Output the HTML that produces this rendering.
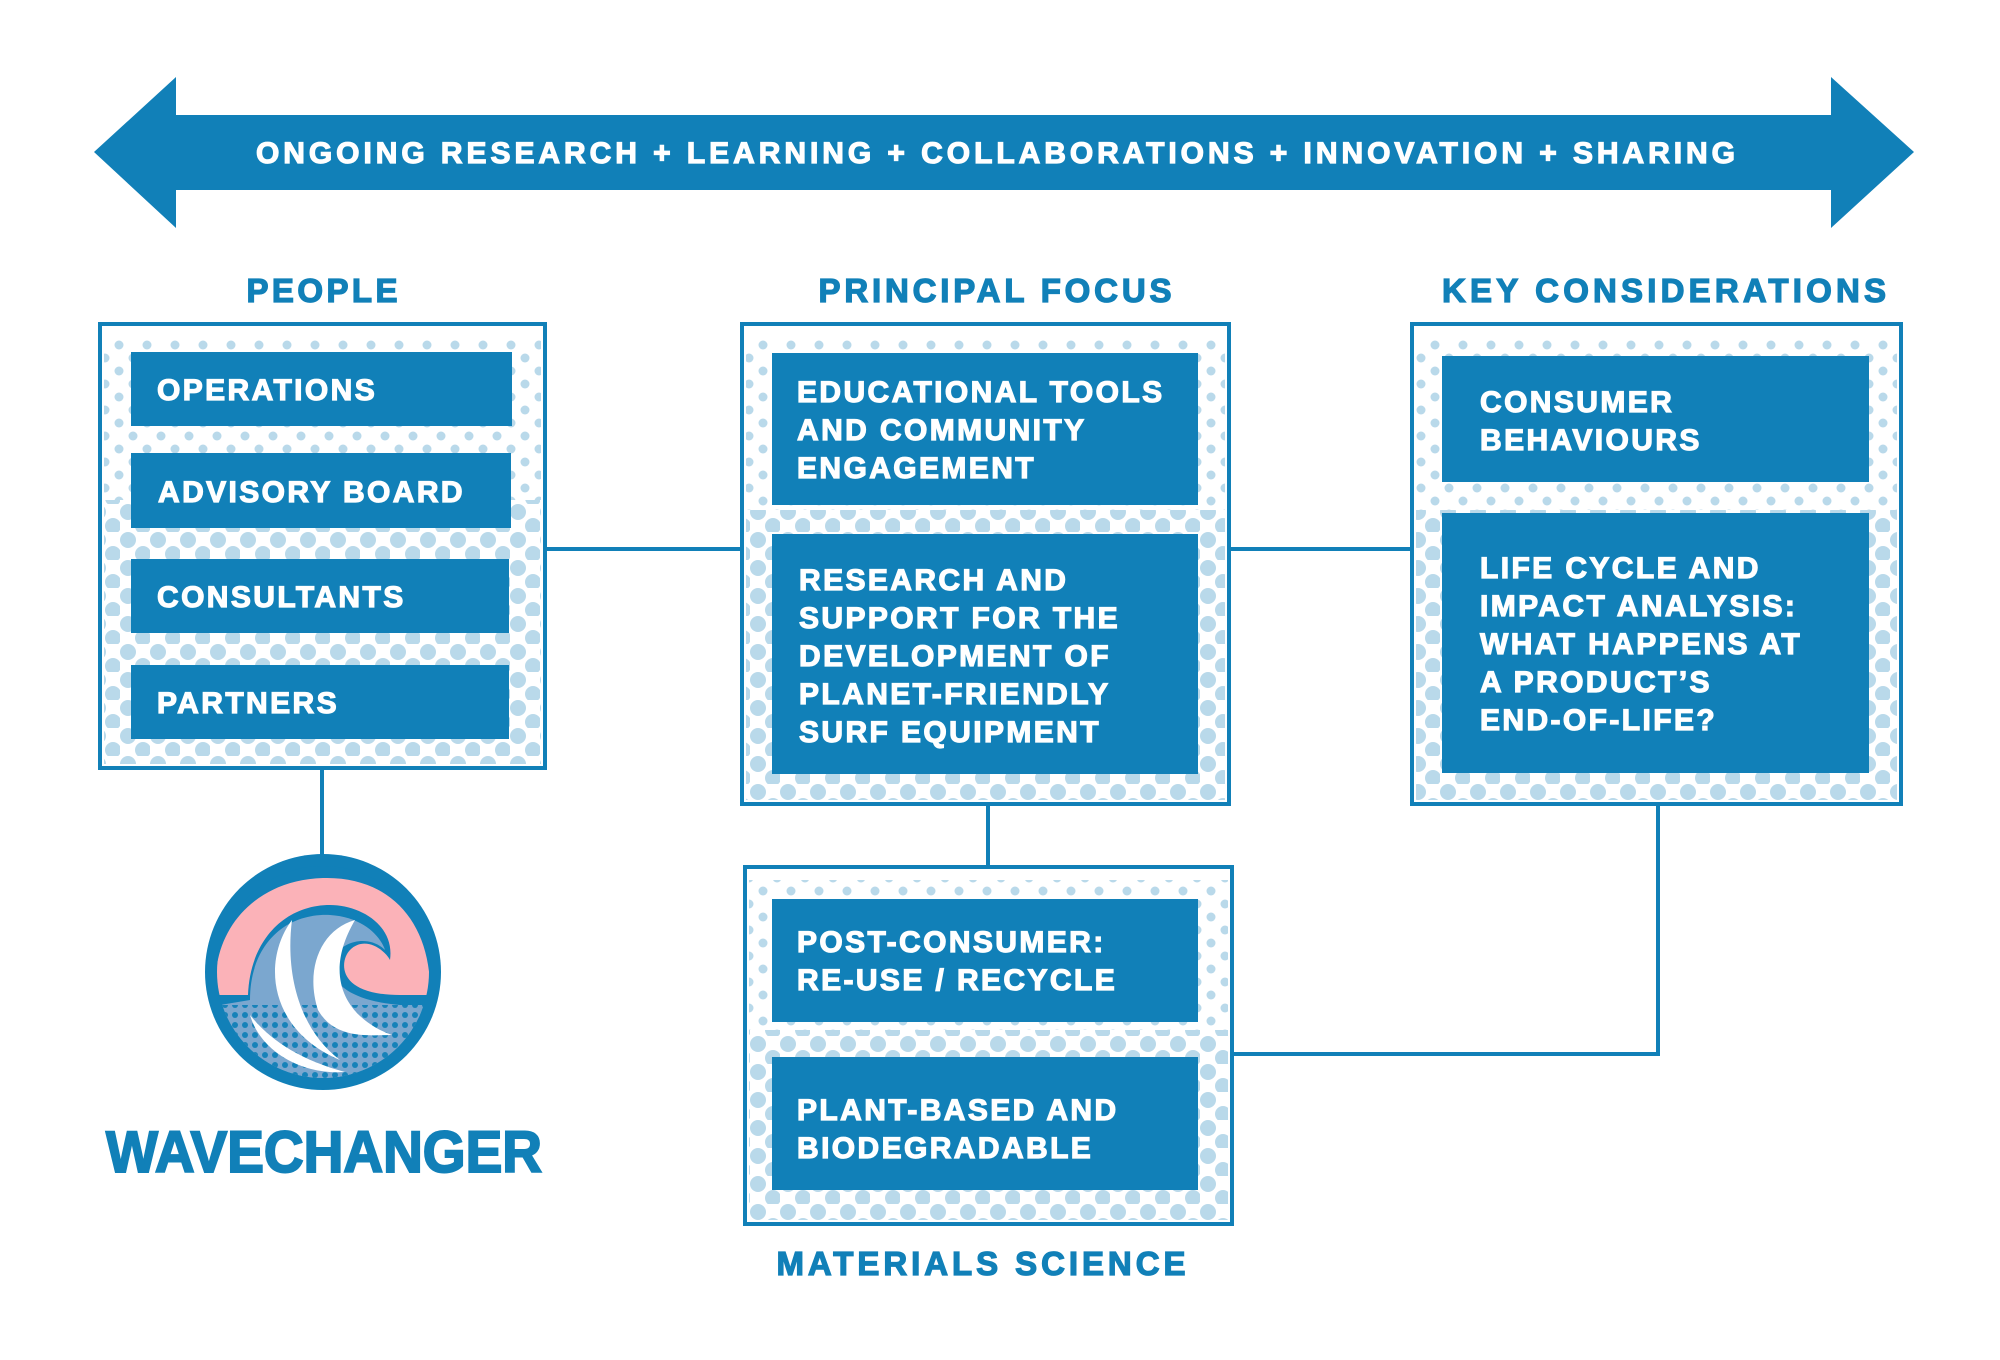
<!DOCTYPE html>
<html><head><meta charset="utf-8"><style>
html,body{margin:0;padding:0;background:#fff;width:2000px;height:1360px;overflow:hidden}
text{font-family:"Liberation Sans",sans-serif;font-weight:bold}
</style></head><body>
<svg width="2000" height="1360" viewBox="0 0 2000 1360" xmlns="http://www.w3.org/2000/svg">
<defs>
<pattern id="d1" width="28" height="26" patternUnits="userSpaceOnUse">
<circle cx="7" cy="7" r="4.5" fill="#b9d9ea"/><circle cx="21" cy="20" r="4.5" fill="#b9d9ea"/>
</pattern>
<pattern id="d2" width="30" height="28" patternUnits="userSpaceOnUse">
<circle cx="8" cy="8" r="8" fill="#b9d9ea"/><circle cx="23" cy="22" r="8" fill="#b9d9ea"/>
</pattern>
<pattern id="ht" width="10" height="10" patternUnits="userSpaceOnUse">
<rect width="10" height="10" fill="#7ba7cf"/><circle cx="5" cy="5" r="3" fill="#1180b8"/>
</pattern>
<clipPath id="cc"><circle cx="323" cy="972" r="106"/></clipPath>
</defs>
<g fill="#1180b8">
<polygon points="94,152 176,77 176,115 1831,115 1831,77 1914,152 1831,228 1831,190 176,190 176,228"/>
</g>
<text x="256" y="163" fill="#fff" stroke="#fff" stroke-width="1.2" font-size="30" textLength="1479" lengthAdjust="spacing">ONGOING RESEARCH  +  LEARNING  +  COLLABORATIONS  +  INNOVATION  +  SHARING</text>

<g fill="#1180b8" stroke="#1180b8" stroke-width="1.3" font-size="33" text-anchor="middle">
<text x="322" y="302" textLength="151" lengthAdjust="spacing">PEOPLE</text>
<text x="995" y="302" textLength="353" lengthAdjust="spacing">PRINCIPAL FOCUS</text>
<text x="1664" y="302" textLength="444" lengthAdjust="spacing">KEY CONSIDERATIONS</text>
<text x="981" y="1275" textLength="409" lengthAdjust="spacing">MATERIALS SCIENCE</text>
</g>

<g stroke="#1180b8" stroke-width="4" fill="none">
<line x1="545" y1="549" x2="742" y2="549"/>
<line x1="1229" y1="549" x2="1412" y2="549"/>
<line x1="322" y1="768" x2="322" y2="860"/>
<line x1="988" y1="804" x2="988" y2="867"/>
<polyline points="1658,804 1658,1054 1232,1054"/>
</g>

<g stroke="#1180b8" stroke-width="4">
<rect x="100" y="324" width="445" height="444" fill="#fff"/>
<rect x="742" y="324" width="487" height="480" fill="#fff"/>
<rect x="1412" y="324" width="489" height="480" fill="#fff"/>
<rect x="745" y="867" width="487" height="357" fill="#fff"/>
</g>
<rect x="104" y="340" width="437" height="160" fill="url(#d1)"/>
<rect x="104" y="500" width="437" height="264" fill="url(#d2)"/>
<rect x="746" y="340" width="479" height="170" fill="url(#d1)"/>
<rect x="746" y="510" width="479" height="290" fill="url(#d2)"/>
<rect x="1416" y="340" width="481" height="170" fill="url(#d1)"/>
<rect x="1416" y="510" width="481" height="290" fill="url(#d2)"/>
<rect x="749" y="880" width="479" height="150" fill="url(#d1)"/>
<rect x="749" y="1030" width="479" height="190" fill="url(#d2)"/>

<g fill="#1180b8">
<rect x="131" y="352" width="381" height="74"/>
<rect x="131" y="453" width="380" height="75"/>
<rect x="131" y="559" width="378" height="74"/>
<rect x="131" y="665" width="378" height="74"/>
<rect x="772" y="353" width="426" height="152"/>
<rect x="772" y="534" width="426" height="240"/>
<rect x="1442" y="356" width="427" height="126"/>
<rect x="1442" y="513" width="427" height="260"/>
<rect x="772" y="899" width="426" height="123"/>
<rect x="772" y="1057" width="426" height="133"/>
</g>

<g fill="#fff" stroke="#fff" stroke-width="1.2" font-size="30" letter-spacing="2.4">
<text x="157" y="400">OPERATIONS</text>
<text x="158" y="502">ADVISORY BOARD</text>
<text x="157" y="607">CONSULTANTS</text>
<text x="157" y="713">PARTNERS</text>
<text x="797" y="402">EDUCATIONAL TOOLS</text>
<text x="797" y="440">AND COMMUNITY</text>
<text x="797" y="478">ENGAGEMENT</text>
<text x="799" y="590">RESEARCH AND</text>
<text x="799" y="628">SUPPORT FOR THE</text>
<text x="799" y="666">DEVELOPMENT OF</text>
<text x="799" y="704">PLANET-FRIENDLY</text>
<text x="799" y="742">SURF EQUIPMENT</text>
<text x="1480" y="412">CONSUMER</text>
<text x="1480" y="450">BEHAVIOURS</text>
<text x="1480" y="578">LIFE CYCLE AND</text>
<text x="1480" y="616">IMPACT ANALYSIS:</text>
<text x="1480" y="654">WHAT HAPPENS AT</text>
<text x="1480" y="692">A PRODUCT’S</text>
<text x="1480" y="730">END-OF-LIFE?</text>
<text x="797" y="952">POST-CONSUMER:</text>
<text x="797" y="990">RE-USE / RECYCLE</text>
<text x="797" y="1120">PLANT-BASED AND</text>
<text x="797" y="1158">BIODEGRADABLE</text>
</g>

<circle cx="323" cy="972" r="118" fill="#1180b8"/>
<g clip-path="url(#cc)">
<rect x="200" y="850" width="250" height="250" fill="#1180b8"/>
<path d="M216,995 C210,930 255,880 323,878 C392,876 432,925 430,995 L400,995 C335,995 340,960 350,950 C365,935 385,950 390,960 C395,925 360,905 330,905 C285,905 250,940 248,995 Z" fill="#fbb2b8"/>
<path d="M250,1000 C250,945 285,913 330,915 C362,917 380,935 385,950 C370,935 345,940 335,955 C325,975 340,1000 400,1005 L420,1010 L420,1100 L220,1100 L220,1005 Z" fill="#7ba7cf"/>
<rect x="215" y="1005" width="220" height="100" fill="url(#ht)" opacity="0.95"/>
<path d="M292,920 C262,960 268,1030 340,1060 C300,1030 285,975 292,920 Z" fill="#fff"/>
<path d="M355,920 C320,930 305,970 318,1010 C335,1040 370,1035 392,1035 C350,1020 320,980 355,920 Z" fill="#fff"/>
<path d="M250,1015 C260,1050 300,1075 345,1072 C300,1060 270,1040 250,1015 Z" fill="#fff"/>
</g>
<text x="324" y="1172" fill="#1180b8" stroke="#1180b8" stroke-width="2" font-size="58" text-anchor="middle" textLength="436" lengthAdjust="spacingAndGlyphs">WAVECHANGER</text>
</svg>
</body></html>
